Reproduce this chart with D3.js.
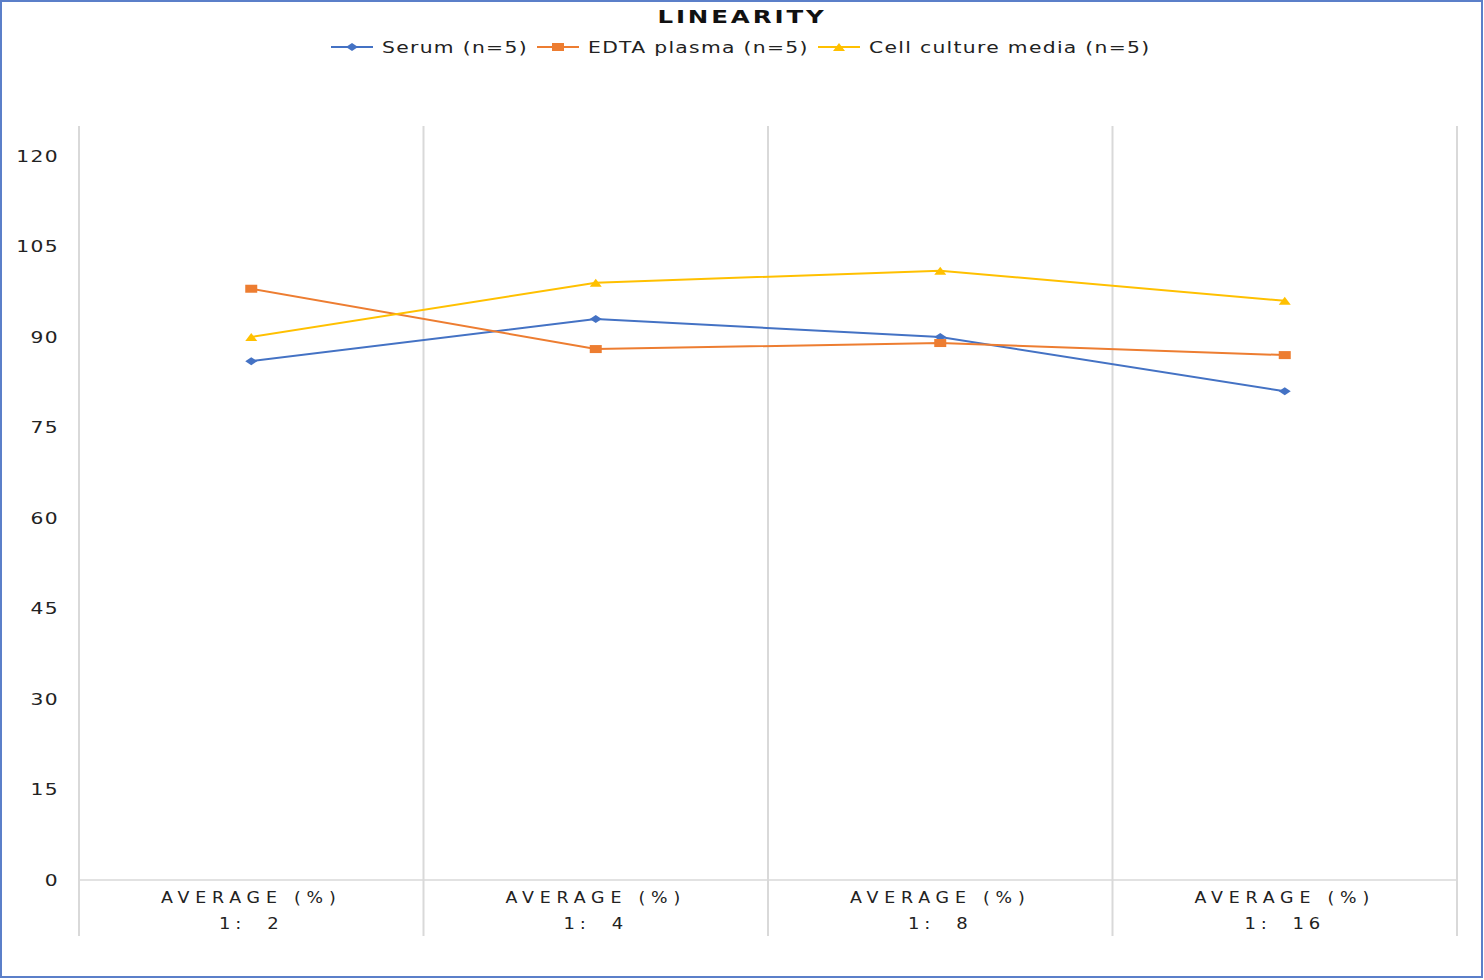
<!DOCTYPE html>
<html>
<head>
<meta charset="utf-8">
<script src="https://cdn.jsdelivr.net/npm/d3@7"></script>
<style>
  body { margin: 0; background: #fff; }
  svg { display: block; font-family: "DejaVu Sans", Verdana, sans-serif; }
</style>
</head>
<body>
<div id="plot"></div>
<script>
// Data
const categories = ["1:  2", "1:  4", "1:  8", "1:  16"];
const categoryTitle = "AVERAGE (%)";
const serum = [86, 93, 90, 81];
const edta = [98, 88, 89, 87];
const cellMedia = [90, 99, 101, 96];
const seriesNames = ["Serum (n=5)", "EDTA plasma (n=5)", "Cell culture media (n=5)"];
const seriesColors = ["#4472C4", "#ED7D31", "#FFC000"];
const seriesShapes = ["diamond", "square", "triangle"];
const yTicks = [0, 15, 30, 45, 60, 75, 90, 105, 120];

const W = 1484, H = 980;
const margin = { top: 156, left: 79, right: 27, bottom: 100 };
const plotW = W - margin.left - margin.right;
const plotH = H - margin.top - margin.bottom;

// the source text looks horizontally stretched, so widen glyphs by a factor
function stretch(sel, factor, anchor, x) {
  sel.each(function () {
    const t = d3.select(this);
    const w = this.getComputedTextLength() * factor;
    t.attr("textLength", w).attr("lengthAdjust", "spacingAndGlyphs");
    if (anchor === "middle") t.attr("text-anchor", "start").attr("x", x - w / 2);
    if (anchor === "end") t.attr("text-anchor", "start").attr("x", x - w);
  });
}

const svg = d3.select("#plot").append("svg")
  .attr("width", W)
  .attr("height", H);

// outer border
svg.append("rect")
  .attr("x", 1).attr("y", 1)
  .attr("width", W - 3).attr("height", H - 4)
  .attr("fill", "#fff")
  .attr("stroke", "#5b7fc9")
  .attr("stroke-width", 2);

const g = svg.append("g").attr("transform", `translate(${margin.left}, ${margin.top})`);

const xScale = d3.scaleBand().domain(categories).range([0, plotW]);
const yScale = d3.scaleLinear().domain([0, 120]).range([plotH, 0]);

// vertical gridlines (category boundaries)
const bounds = categories.map(c => xScale(c)).concat([plotW]);
g.selectAll(".vgrid").data(bounds).join("line")
  .attr("class", "vgrid")
  .attr("x1", d => d).attr("x2", d => d)
  .attr("y1", -30).attr("y2", plotH + 56)
  .attr("stroke", "#d9d9d9")
  .attr("stroke-width", 2);

// baseline
g.append("line")
  .attr("x1", 0).attr("x2", plotW)
  .attr("y1", yScale(0)).attr("y2", yScale(0))
  .attr("stroke", "#d9d9d9")
  .attr("stroke-width", 1.5);

// y axis labels
const yAxis = g.append("g")
  .call(d3.axisLeft(yScale).tickValues(yTicks).tickSize(0).tickPadding(20));
yAxis.select(".domain").remove();
yAxis.selectAll("text")
  .attr("font-family", "DejaVu Sans, sans-serif")
  .attr("font-size", 15)
  .attr("letter-spacing", 1)
  .attr("fill", "#222")
  .attr("dy", "0.36em");
stretch(yAxis.selectAll("text"), 1.35, "end", -20);

// x axis labels
const xAxis = g.append("g").attr("transform", `translate(0, ${plotH})`);
categories.forEach(c => {
  const cx = xScale(c) + xScale.bandwidth() / 2;
  const t1 = xAxis.append("text")
    .attr("y", 23)
    .attr("font-size", 15)
    .attr("letter-spacing", 5)
    .attr("fill", "#222")
    .text(categoryTitle);
  stretch(t1, 1.16, "middle", cx);
  const t2 = xAxis.append("text")
    .attr("y", 49)
    .attr("font-size", 15)
    .attr("letter-spacing", 4)
    .attr("fill", "#222")
    .attr("xml:space", "preserve")
    .style("white-space", "pre")
    .text(c);
  stretch(t2, 1.2, "middle", cx);
});

// series
const allSeries = [serum, edta, cellMedia];
const cxOf = i => xScale(categories[i]) + xScale.bandwidth() / 2;

function marker(sel, shape, color) {
  if (shape === "diamond") {
    sel.append("path").attr("d", "M-6,0L0,-4L6,0L0,4Z").attr("fill", color);
  } else if (shape === "square") {
    sel.append("rect").attr("x", -6).attr("y", -4).attr("width", 12).attr("height", 8).attr("fill", color);
  } else {
    sel.append("path").attr("d", "M-6,4L0,-4L6,4Z").attr("fill", color);
  }
}

const line = d3.line()
  .x((d, i) => cxOf(i))
  .y(d => yScale(d));

allSeries.forEach((vals, s) => {
  g.append("path")
    .datum(vals)
    .attr("d", line)
    .attr("fill", "none")
    .attr("stroke", seriesColors[s])
    .attr("stroke-width", 2);
  vals.forEach((v, i) => {
    const m = g.append("g").attr("transform", `translate(${cxOf(i)}, ${yScale(v)})`);
    marker(m, seriesShapes[s], seriesColors[s]);
  });
});

// title
const title = svg.append("text")
  .attr("y", 23)
  .attr("font-size", 17)
  .attr("font-weight", "bold")
  .attr("letter-spacing", 2)
  .attr("fill", "#111")
  .text("LINEARITY");
stretch(title, 1.44, "middle", 742);

// legend
const legendX = [331, 537, 818];
seriesNames.forEach((name, s) => {
  const lg = svg.append("g").attr("transform", `translate(${legendX[s]}, 47)`);
  lg.append("line")
    .attr("x1", 0).attr("x2", 42)
    .attr("stroke", seriesColors[s])
    .attr("stroke-width", 2);
  const m = lg.append("g").attr("transform", "translate(21, 0)");
  marker(m, seriesShapes[s], seriesColors[s]);
  const t = lg.append("text")
    .attr("x", 51).attr("y", 6)
    .attr("font-size", 15.5)
    .attr("letter-spacing", 1)
    .attr("fill", "#222")
    .text(name);
  stretch(t, 1.31);
});
</script>
</body>
</html>
